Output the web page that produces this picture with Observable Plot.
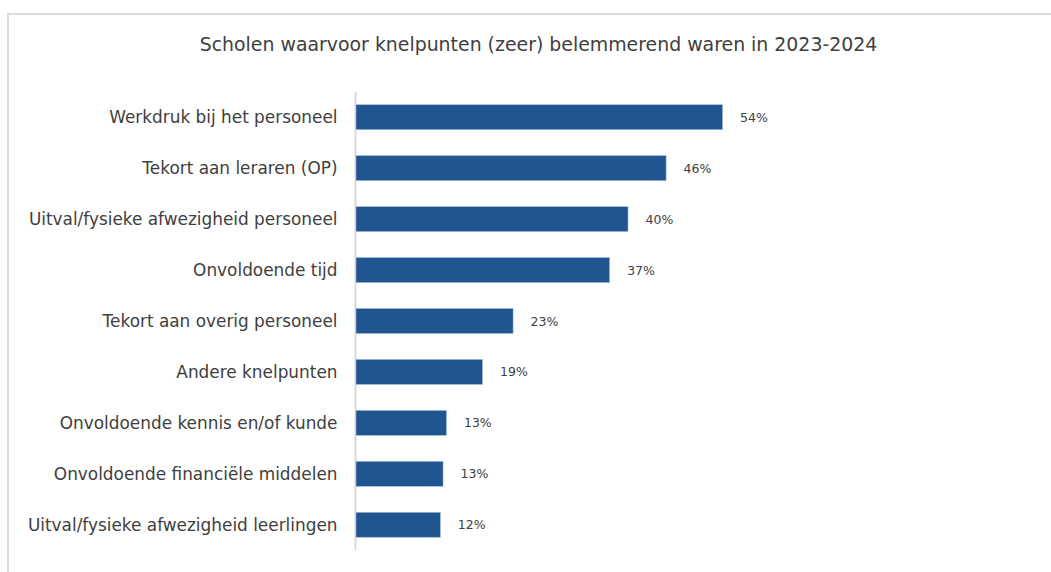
<!DOCTYPE html>
<html>
<head>
<meta charset="utf-8">
<script src="https://cdn.jsdelivr.net/npm/d3@7"></script>
<script src="https://cdn.jsdelivr.net/npm/@observablehq/plot@0.6"></script>
<style>
  body { margin: 0; background: #fff; }
  #wrap { position: relative; width: 1051px; height: 572px; overflow: hidden; font-family: "DejaVu Sans", sans-serif; }
  #frame { position: absolute; left: 7px; top: 13px; width: 1100px; height: 600px; border-top: 2px solid #dcdcdc; border-left: 2px solid #dcdcdc; }
  #title { position: relative; height: 80px; box-sizing: border-box; padding-top: 33px; padding-left: 26px; text-align: center; font-size: 18.9px; color: #404040; white-space: nowrap; }
  #chart { position: relative; }
</style>
</head>
<body>
<div id="wrap">
  <div id="frame"></div>
  <div id="title">Scholen waarvoor knelpunten (zeer) belemmerend waren in 2023-2024</div>
  <div id="chart"></div>
</div>
<script>
const categories = [
  "Werkdruk bij het personeel",
  "Tekort aan leraren (OP)",
  "Uitval/fysieke afwezigheid personeel",
  "Onvoldoende tijd",
  "Tekort aan overig personeel",
  "Andere knelpunten",
  "Onvoldoende kennis en/of kunde",
  "Onvoldoende financiële middelen",
  "Uitval/fysieke afwezigheid leerlingen"
];
const values = [53.9, 45.6, 40.0, 37.3, 23.1, 18.6, 13.3, 12.8, 12.4];

const data = categories.map((c, i) => ({category: c, value: values[i]}));

const chart = Plot.plot({
  width: 1051,
  height: 492,
  marginTop: 12,
  marginBottom: 22,
  marginLeft: 356,
  marginRight: 15,
  style: {fontFamily: "DejaVu Sans, sans-serif", color: "#404040", background: "transparent"},
  x: {domain: [0, 100], axis: null},
  y: {domain: categories, padding: 0.51, paddingOuter: 0.25, round: false, label: null},
  marks: [
    Plot.ruleX([0], {stroke: "#d9d9d9", strokeWidth: 2, dx: -1}),
    Plot.barX(data, {x: "value", y: "category", fill: "#21558f", stroke: "#9db8d8", strokeWidth: 0.6}),
    Plot.text(data, {x: "value", y: "category", text: d => Math.round(d.value) + "%", dx: 17, textAnchor: "start", fontSize: 12.5, fill: "#404040"}),
    Plot.axisY({tickSize: 0, tickPadding: 19, fontSize: 16.9, fill: "#404040", label: null})
  ]
});
document.getElementById("chart").appendChild(chart);
</script>
</body>
</html>
